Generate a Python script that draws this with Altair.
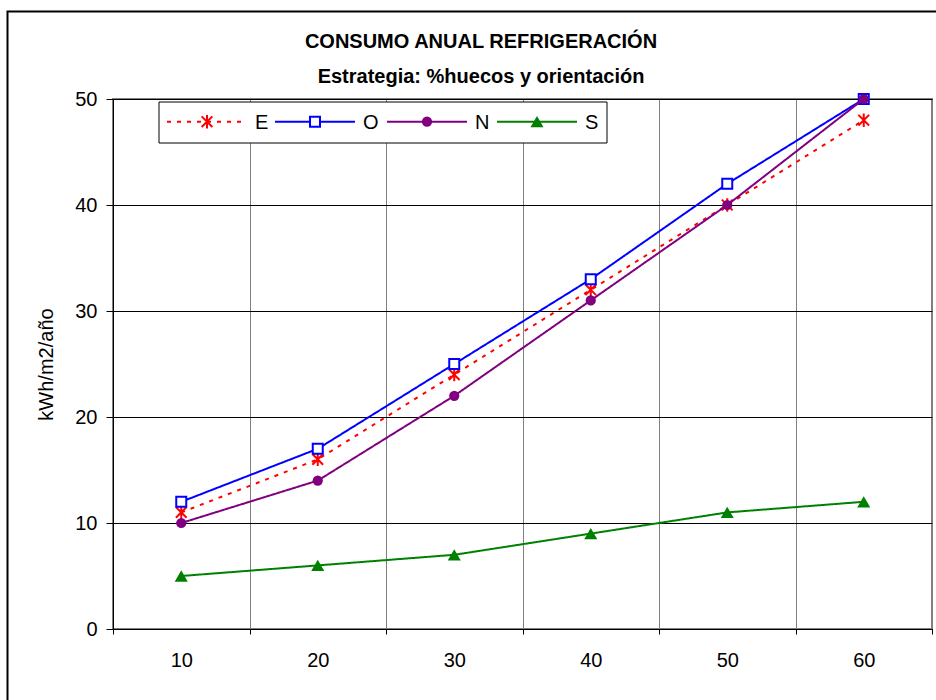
import altair as alt
import pandas as pd

# ---- data ----
huecos = [10, 20, 30, 40, 50, 60]
series = ["E", "O", "N", "S"]
vals_E = [11, 16, 24, 32, 40, 48]
vals_O = [12, 17, 25, 33, 42, 50]
vals_N = [10, 14, 22, 31, 40, 50]
vals_S = [5, 6, 7, 9, 11, 12]
x_tick_labels = [10, 20, 30, 40, 50, 60]
y_ticks = [0, 10, 20, 30, 40, 50]
title_1 = "CONSUMO ANUAL REFRIGERACIÓN"
title_2 = "Estrategia: %huecos y orientación"
y_title = "kWh/m2/año"

values = {"E": vals_E, "O": vals_O, "N": vals_N, "S": vals_S}
rows = []
for s in series:
    for h, v in zip(huecos, values[s]):
        rows.append({"serie": s, "hueco": h, "valor": v})
df = pd.DataFrame(rows)

FONT = "Liberation Sans"
W, H = 819, 530

colors = {"E": "#FF0000", "O": "#0000FF", "N": "#800080", "S": "#008000"}
asterisk = "M0,-1L0,1M-0.8,-0.8L0.8,0.8M-0.8,0.8L0.8,-0.8"
marker = {
    "E": dict(shape=asterisk, size=180, filled=False, stroke="#FF0000", strokeWidth=2, opacity=1),
    "O": dict(shape="square", size=100, filled=True, fill="#FFFFFF", stroke="#0000FF", strokeWidth=2, opacity=1),
    "N": dict(shape="circle", size=105, filled=True, color="#800080", opacity=1),
    "S": dict(shape="triangle-up", size=170, filled=True, color="#008000", opacity=1),
}
dash = {"E": [4, 6], "O": [1, 0], "N": [1, 0], "S": [1, 0]}

band_ticks = [5, 15, 25, 35, 45, 55, 65]
x_values = sorted(band_ticks + x_tick_labels)

xaxis = alt.Axis(
    values=x_values,
    labelExpr="datum.value % 10 == 0 ? datum.label : ''",
    grid=True,
    gridColor="#808080",
    gridWidth=1,
    gridOpacity={"condition": {"test": "datum.value % 10 == 5", "value": 1}, "value": 0},
    tickOpacity={"condition": {"test": "datum.value % 10 == 5", "value": 1}, "value": 0},
    tickColor="#000000",
    tickSize=5,
    domainColor="#000000",
    domainWidth=1,
    labelFont=FONT,
    labelFontSize=20,
    labelColor="#000000",
    labelPadding=16,
    title=None,
)
yaxis = alt.Axis(
    values=y_ticks,
    grid=True,
    gridColor="#000000",
    gridWidth=1,
    tickColor="#000000",
    tickSize=7,
    domainColor="#000000",
    domainWidth=1,
    labelFont=FONT,
    labelFontSize=20,
    labelColor="#000000",
    labelPadding=9,
    title=y_title,
    titleFont=FONT,
    titleFontSize=20,
    titleFontWeight="normal",
    titleColor="#000000",
    titlePadding=18,
)

X = alt.X("hueco:Q", scale=alt.Scale(domain=[5, 65], nice=False, zero=False), axis=xaxis)
Y = alt.Y("valor:Q", scale=alt.Scale(domain=[0, 50], nice=False, zero=True), axis=yaxis)

base = alt.Chart(df)
layers = []
for s in series:
    sub = base.transform_filter(alt.datum.serie == s)
    layers.append(sub.mark_line(color=colors[s], strokeWidth=2, strokeDash=dash[s]).encode(x=X, y=Y))
    layers.append(sub.mark_point(**marker[s]).encode(x=X, y=Y))

one = pd.DataFrame({"k": [0]})

# outer chart border
border = alt.Chart(one).mark_rect(fill=None, stroke="#000000", strokeWidth=2).encode(
    x=alt.value(-105.5), x2=alt.value(W + 40), y=alt.value(-87.5), y2=alt.value(H + 120)
)

# titles
t1 = alt.Chart(one).mark_text(font=FONT, fontSize=20, fontWeight="bold", align="center",
                              baseline="middle", color="#000000").encode(
    x=alt.value(368), y=alt.value(-57), text=alt.value(title_1))
t2 = alt.Chart(one).mark_text(font=FONT, fontSize=20, fontWeight="bold", align="center",
                              baseline="middle", color="#000000").encode(
    x=alt.value(368), y=alt.value(-22), text=alt.value(title_2))

# legend (manual, horizontal, inside plot)
leg = [alt.Chart(one).mark_rect(fill="#FFFFFF", stroke="#000000", strokeWidth=1).encode(
    x=alt.value(46), x2=alt.value(494), y=alt.value(3), y2=alt.value(44))]
leg_x0 = {"E": 54, "O": 162, "N": 274, "S": 384}
ly = 22.7
for s in series:
    x0 = leg_x0[s]
    leg.append(alt.Chart(one).mark_rule(color=colors[s], strokeWidth=2, strokeDash=dash[s]).encode(
        x=alt.value(x0), x2=alt.value(x0 + 80), y=alt.value(ly)))
    leg.append(alt.Chart(one).mark_point(**marker[s]).encode(x=alt.value(x0 + 40), y=alt.value(ly)))
    leg.append(alt.Chart(one).mark_text(font=FONT, fontSize=20, align="left", baseline="middle",
                                        color="#000000").encode(
        x=alt.value(x0 + 88), y=alt.value(ly + 1), text=alt.value(s)))

chart = alt.layer(*layers, *leg, border, t1, t2).properties(
    width=W,
    height=H,
    autosize=alt.AutoSizeParams(type="none"),
    padding={"left": 113, "top": 99, "right": 4, "bottom": 71},
    background="#FFFFFF",
).configure_view(stroke="#808080", strokeWidth=2)

chart.save("out.html", embed_options={"renderer": "svg", "actions": False})
